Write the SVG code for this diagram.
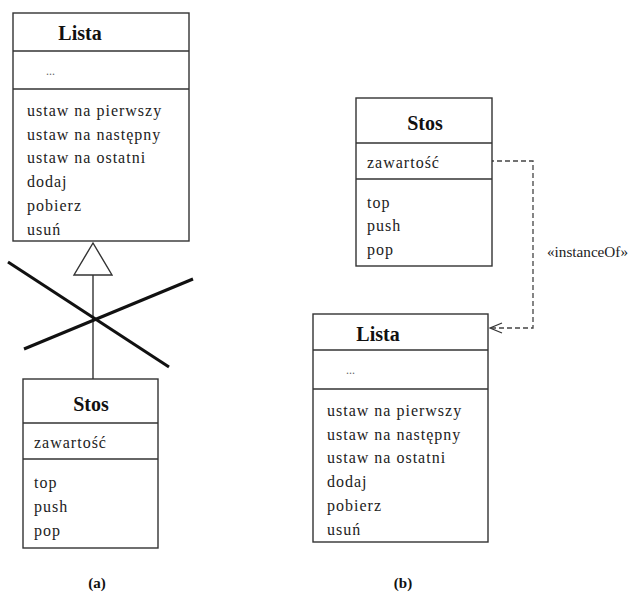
<svg xmlns="http://www.w3.org/2000/svg" width="630" height="594" viewBox="0 0 630 594">
<style>
.box{fill:#fff;stroke:#333;stroke-width:1.4}
.div{stroke:#333;stroke-width:1.4}
.t{font-family:"Liberation Serif",serif;font-size:16px;fill:#222;letter-spacing:1px}
.h{font-family:"Liberation Serif",serif;font-size:20px;font-weight:bold;fill:#111;text-anchor:middle}
.lbl{font-family:"Liberation Serif",serif;font-size:15px;font-weight:bold;fill:#111;text-anchor:middle}
.s{font-family:"Liberation Serif",serif;font-size:14px;fill:#222}
.dots{font-family:"Liberation Serif",serif;font-size:12px;fill:#666}
</style>
<defs>
<marker id="open" markerWidth="14" markerHeight="12" refX="13" refY="6" orient="auto" markerUnits="userSpaceOnUse">
<path d="M1,1 L13,6 L1,11" fill="none" stroke="#333" stroke-width="1.2"/>
</marker>
</defs>
<g id="connectors">
<line x1="93" y1="275" x2="93" y2="379" stroke="#333" stroke-width="1.4"/>
<polygon points="93,243 74,275 112,275" fill="#fff" stroke="#333" stroke-width="1.4"/>
<line x1="8" y1="262" x2="169" y2="367" stroke="#111" stroke-width="3"/>
<line x1="24" y1="349" x2="193" y2="279" stroke="#111" stroke-width="3"/>
<polyline points="465,161 533,161 533,328 490,328" fill="none" stroke="#444" stroke-width="1.3" stroke-dasharray="5,3" marker-end="url(#open)"/>
<text class="s" x="547" y="257" textLength="81" lengthAdjust="spacingAndGlyphs">«instanceOf»</text>
</g>
<g id="lista-a">
<rect class="box" x="13" y="13" width="176" height="228"/>
<line class="div" x1="13" y1="51" x2="189" y2="51"/>
<line class="div" x1="13" y1="89" x2="189" y2="89"/>
<text class="h" x="80" y="40">Lista</text>
<text class="dots" x="46" y="75">...</text>
<text class="t" x="27" y="116">ustaw na pierwszy</text>
<text class="t" x="27" y="140">ustaw na następny</text>
<text class="t" x="27" y="163">ustaw na ostatni</text>
<text class="t" x="27" y="187">dodaj</text>
<text class="t" x="27" y="211">pobierz</text>
<text class="t" x="27" y="235">usuń</text>
</g>
<g id="stos-a">
<rect class="box" x="23" y="379" width="135" height="169"/>
<line class="div" x1="23" y1="423" x2="158" y2="423"/>
<line class="div" x1="23" y1="459" x2="158" y2="459"/>
<text class="h" x="91" y="411">Stos</text>
<text class="t" x="34" y="448">zawartość</text>
<text class="t" x="34" y="488">top</text>
<text class="t" x="34" y="512">push</text>
<text class="t" x="34" y="536">pop</text>
</g>
<g id="stos-b">
<rect class="box" x="356" y="98" width="136" height="168"/>
<line class="div" x1="356" y1="143" x2="492" y2="143"/>
<line class="div" x1="356" y1="179" x2="492" y2="179"/>
<text class="h" x="425" y="130">Stos</text>
<text class="t" x="367" y="168">zawartość</text>
<text class="t" x="367" y="208">top</text>
<text class="t" x="367" y="231">push</text>
<text class="t" x="367" y="255">pop</text>
</g>
<g id="lista-b">
<rect class="box" x="313" y="314" width="175" height="228"/>
<line class="div" x1="313" y1="350" x2="488" y2="350"/>
<line class="div" x1="313" y1="389" x2="488" y2="389"/>
<text class="h" x="378" y="341">Lista</text>
<text class="dots" x="346" y="374">...</text>
<text class="t" x="327" y="416">ustaw na pierwszy</text>
<text class="t" x="327" y="440">ustaw na następny</text>
<text class="t" x="327" y="463">ustaw na ostatni</text>
<text class="t" x="327" y="487">dodaj</text>
<text class="t" x="327" y="511">pobierz</text>
<text class="t" x="327" y="535">usuń</text>
</g>
<text class="lbl" x="97" y="588">(a)</text>
<text class="lbl" x="403" y="588">(b)</text>
</svg>
